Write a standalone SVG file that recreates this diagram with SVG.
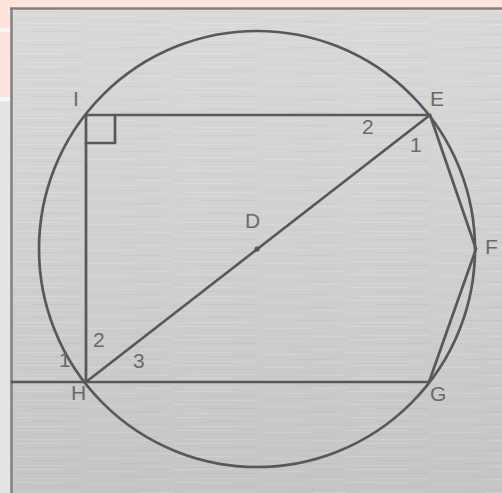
<svg xmlns="http://www.w3.org/2000/svg" width="502" height="493" viewBox="0 0 502 493">
<defs>
<linearGradient id="metal" x1="0" y1="0" x2="0" y2="1">
<stop offset="0" stop-color="#d9d9d9"/>
<stop offset="0.5" stop-color="#d0d0d0"/>
<stop offset="1" stop-color="#c5c5c5"/>
</linearGradient>
<pattern id="brush" width="173" height="13" patternUnits="userSpaceOnUse">
<rect x="0" y="1" width="61" height="1" fill="#ffffff" opacity="0.18"/>
<rect x="88" y="3" width="47" height="1" fill="#ffffff" opacity="0.15"/>
<rect x="31" y="5" width="52" height="1" fill="#9a9a9a" opacity="0.12"/>
<rect x="120" y="8" width="40" height="1" fill="#9a9a9a" opacity="0.12"/>
<rect x="12" y="10" width="70" height="1" fill="#ffffff" opacity="0.15"/>
<rect x="140" y="11" width="33" height="1" fill="#ffffff" opacity="0.15"/>
</pattern>
<style>
.ln{stroke:#585858;stroke-width:2.7;fill:none;stroke-linecap:round}
.lb{font-family:"Liberation Sans",Arial,sans-serif;font-size:21px;fill:#6a6a6a}
</style>
</defs>
<rect x="0" y="0" width="502" height="493" fill="#e4e4e4"/>
<rect x="0" y="0" width="502" height="8" fill="#fde5dd"/>
<rect x="0" y="0" width="11" height="28" fill="#fde5dd"/>
<rect x="0" y="28" width="11" height="4" fill="#f6f6f6"/>
<rect x="0" y="32" width="11" height="65" fill="#fde5dd"/>
<rect x="0" y="97" width="11" height="4" fill="#f6f6f6"/>
<rect x="11" y="8" width="491" height="485" fill="url(#metal)"/>
<rect x="11" y="8" width="491" height="485" fill="url(#brush)"/>
<line x1="10" y1="8.5" x2="502" y2="8.5" stroke="#808080" stroke-width="2.5"/>
<line x1="11.5" y1="8" x2="11.5" y2="493" stroke="#808080" stroke-width="2.5"/>

<g id="connectors">
<circle class="ln" cx="257" cy="249" r="218"/>
<line class="ln" x1="86" y1="115" x2="430" y2="115"/>
<line class="ln" x1="86" y1="115" x2="86" y2="382"/>
<line class="ln" x1="12" y1="382" x2="429" y2="382"/>
<line class="ln" x1="430" y1="115" x2="86" y2="382"/>
<line class="ln" x1="430" y1="115" x2="476" y2="249"/>
<line class="ln" x1="476" y1="249" x2="429" y2="382"/>
<polyline class="ln" points="86,143 115,143 115,115"/>
</g>

<g id="D"><circle cx="257" cy="249" r="2.6" fill="#555"/><text class="lb" x="245" y="228">D</text></g>
<g id="I"><text class="lb" x="73" y="106">I</text></g>
<g id="E"><text class="lb" x="430" y="106">E</text></g>
<g id="F"><text class="lb" x="485" y="254">F</text></g>
<g id="G"><text class="lb" x="430" y="401">G</text></g>
<g id="H"><text class="lb" x="71" y="400">H</text></g>
<g id="angles">
<text class="lb" x="362" y="134">2</text>
<text class="lb" x="410" y="152">1</text>
<text class="lb" x="93" y="347">2</text>
<text class="lb" x="133" y="368">3</text>
<text class="lb" x="59" y="367">1</text>
</g>
</svg>
